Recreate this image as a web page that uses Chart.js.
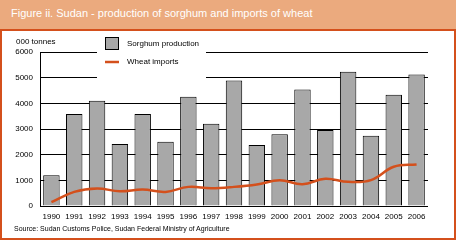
<!DOCTYPE html>
<html>
<head>
<meta charset="utf-8">
<script src="https://cdn.jsdelivr.net/npm/chart.js@4.4.0/dist/chart.umd.min.js"></script>
<style>
  body { margin: 0; background: #fff; }
  #wrap { position: relative; width: 456px; height: 240px; overflow: hidden; font-family: "Liberation Sans", Arial, sans-serif; }
  #title { position: absolute; left: 0; top: 0; width: 456px; height: 29px; background: #EBAA7E; color: #fff; font-size: 11px; line-height: 26px; padding-left: 11px; box-sizing: border-box; }
  #frame { position: absolute; left: 0; top: 29px; width: 456px; height: 211px; border: 2px solid #D4501C; box-sizing: border-box; }
  #unit { position: absolute; left: 16px; top: 37px; font-size: 8px; }
  #source { position: absolute; left: 14px; top: 225px; font-size: 7px; }
  canvas { position: absolute; left: 0; top: 0; }
</style>
</head>
<body>
<div id="wrap">
  <div id="title">Figure ii. Sudan - production of sorghum and imports of wheat</div>
  <div id="frame"></div>
  <canvas id="chart" width="456" height="240"></canvas>
  <div id="unit">000 tonnes</div>
  <div id="source">Source: Sudan Customs Police, Sudan Federal Ministry of Agriculture</div>
</div>
<script>
var years = ['1990','1991','1992','1993','1994','1995','1996','1997','1998','1999','2000','2001','2002','2003','2004','2005','2006'];
var sorghum = [1200, 3580, 4100, 2420, 3580, 2500, 4260, 3200, 4890, 2380, 2800, 4540, 2960, 5230, 2740, 4330, 5120];
var wheat = [150, 550, 680, 575, 640, 550, 745, 695, 745, 840, 1000, 850, 1060, 940, 1010, 1530, 1620];
var yTicks = [0, 1000, 2000, 3000, 4000, 5000, 6000];

var FONT = 'Liberation Sans';

// white gap behind the legend, then the legend itself
var legendBox = {
  id: 'legendBox',
  beforeDatasetsDraw: function(chart) {
    var ctx = chart.ctx;
    ctx.save();
    ctx.fillStyle = '#fff';
    ctx.fillRect(97, 34, 109, 45);
    ctx.restore();
  },
  afterDraw: function(chart) {
    var ctx = chart.ctx;
    ctx.save();
    ctx.fillStyle = '#A8A8A8';
    ctx.strokeStyle = '#000';
    ctx.lineWidth = 1;
    ctx.fillRect(105.5, 37.5, 13, 12);
    ctx.strokeRect(105.5, 37.5, 13, 12);
    ctx.strokeStyle = '#D4501C';
    ctx.lineWidth = 2.5;
    ctx.beginPath();
    ctx.moveTo(105, 62);
    ctx.lineTo(119, 62);
    ctx.stroke();
    ctx.fillStyle = '#000';
    ctx.font = '8px "' + FONT + '"';
    ctx.textBaseline = 'middle';
    ctx.fillText('Sorghum production', 127, 44);
    ctx.fillText('Wheat imports', 127, 62);
    ctx.restore();
  }
};

new Chart(document.getElementById('chart'), {
  data: {
    labels: years,
    datasets: [
      {
        type: 'line',
        label: 'Wheat imports',
        data: wheat,
        borderColor: '#D4501C',
        borderWidth: 2.5,
        pointRadius: 0,
        tension: 0.4,
        fill: false,
        order: 0
      },
      {
        type: 'bar',
        label: 'Sorghum production',
        data: sorghum,
        backgroundColor: '#A8A8A8',
        borderColor: '#000',
        borderWidth: 1,
        categoryPercentage: 1,
        barPercentage: 0.72,
        order: 1
      }
    ]
  },
  options: {
    responsive: false,
    animation: false,
    layout: { padding: { left: 0, top: 52, right: 28, bottom: 0 } },
    plugins: { legend: { display: false }, tooltip: { enabled: false } },
    scales: {
      x: {
        grid: { display: false, drawTicks: false },
        border: { display: false },
        ticks: { color: '#000', font: { family: FONT, size: 8 }, padding: 6, maxRotation: 0, autoSkip: false },
        afterFit: function(s) { s.height = 34; }
      },
      y: {
        min: 0, max: 6000,
        afterBuildTicks: function(s) { s.ticks = yTicks.map(function(v) { return { value: v }; }); },
        grid: { color: '#000', lineWidth: 1, drawTicks: false },
        border: { display: true, color: '#000', width: 1 },
        ticks: { color: '#000', font: { family: FONT, size: 8 }, padding: 7, callback: function(v) { return String(v); } },
        afterFit: function(s) { s.width = 40; }
      }
    }
  },
  plugins: [legendBox]
});
</script>
</body>
</html>
